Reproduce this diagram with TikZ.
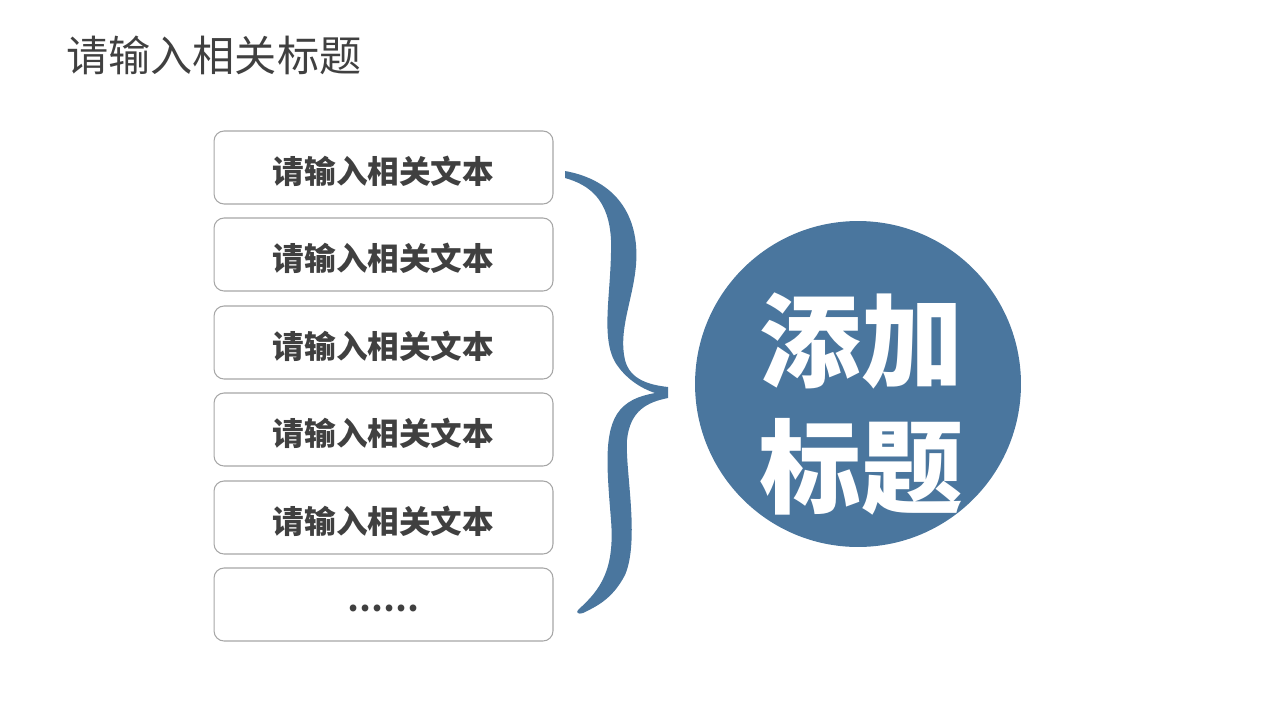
\documentclass[tikz,border=0pt]{standalone}
\usepackage{fontspec}
\usepackage{xcolor}
\newfontfamily\cjk{Noto Sans CJK SC}
\definecolor{steelblue}{HTML}{4A769E}
\definecolor{textgray}{HTML}{404040}
\definecolor{boxgray}{HTML}{A6A6A6}
\tikzset{
	itembox/.style={draw=boxgray, line width=0.6pt, rounded corners=0.2cm,
		minimum width=6.78cm, minimum height=1.46cm, inner sep=0pt,
		font=\cjk\bfseries\fontsize{18}{20}\selectfont, text=textgray},
	bigcircle/.style={circle, fill=steelblue, minimum size=6.52cm, inner sep=0pt}
}

\begin{document}
\begin{tikzpicture}[x=0.02cm, y=-0.02cm]
		\useasboundingbox (0,0) rectangle (1280,720);
		% title
		\node[anchor=west, font=\cjk\fontsize{24}{28}\selectfont, text=textgray] (title) at (60,55) {请输入相关标题};
		% list of boxes
		\foreach \i/\y/\t in {1/167.5/请输入相关文本, 2/254.5/请输入相关文本, 3/342.5/请输入相关文本,
			4/429.5/请输入相关文本, 5/517.5/请输入相关文本, 6/604.5/……}
			\node[itembox] (box\i) at (383.5,\y) {\raisebox{-0.08cm}[\height][\depth]{\t}};
		% brace
		\fill[steelblue] (565,171) .. controls (615,180) and (640,215) .. (636,265)
			.. controls (633,300) and (618,330) .. (625,360)
			.. controls (630,380) and (650,385) .. (668,387)
			-- (668,398)
			.. controls (648,402) and (630,410) .. (627,440)
			.. controls (625,470) and (640,540) .. (625,575)
			.. controls (612,600) and (595,607) .. (583,613)
			.. controls (578,615) and (575,612) .. (579,609)
			.. controls (600,590) and (615,570) .. (611,520)
			.. controls (607,470) and (603,430) .. (620,410)
			.. controls (630,398) and (645,395) .. (655,393)
			.. controls (640,388) and (625,378) .. (615,362)
			.. controls (600,335) and (612,290) .. (611,240)
			.. controls (609,200) and (590,185) .. (565,178) -- cycle;
		% circle with heading
		\node[bigcircle] (topic) at (858,384) {};
		\node[font=\cjk\bfseries\fontsize{58}{66}\selectfont, text=white, align=center] (topictext) at (861,404) {添加\\[6pt]标题};
	\end{tikzpicture}
\end{document}
